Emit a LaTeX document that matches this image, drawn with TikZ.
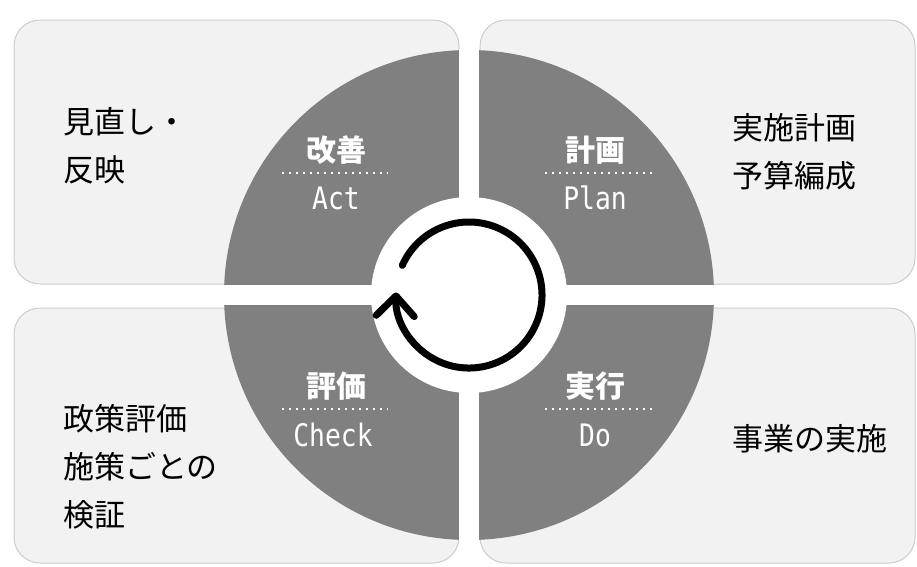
\documentclass[tikz,border=0pt]{standalone}
\usepackage{fontspec}
\setmainfont{Noto Sans CJK JP}
\newfontfamily\latnarrow[FakeStretch=0.85]{DejaVu Sans Mono}
\usetikzlibrary{arrows.meta}

\tikzset{
  panel/.style={fill=gray!10, draw=gray!40, line width=1pt, rounded corners=26pt},
  phase/.style={text=white, inner sep=0pt, font=\fontsize{30}{30}\selectfont\bfseries},
  phaseen/.style={text=white, inner sep=0pt, font=\latnarrow\fontsize{31}{31}\selectfont},
  note/.style={anchor=west, align=left, inner sep=0pt, font=\fontsize{31}{48}\selectfont},
  dotsep/.style={white, line width=2pt, dash pattern=on 2pt off 5pt},
}

\begin{document}
\begin{tikzpicture}[x=1pt, y=-1pt]
\useasboundingbox (0,0) rectangle (917,566);
\coordinate (c) at (469,295);

% panels
\draw[panel] (14,20) rectangle (459,284);
\draw[panel] (480,20) rectangle (915,284);
\draw[panel] (14,308) rectangle (459,563);
\draw[panel] (480,308) rectangle (915,563);

% quadrants
\fill[gray] (c) circle[radius=245];
\begin{scope}
  \clip (c) circle[radius=246];
  \fill[white] (459,0) rectangle (479,566);
  \fill[white] (0,285) rectangle (917,305);
\end{scope}
\fill[white] (c) circle[radius=98];

% cycle
\draw[line width=7pt, line cap=round,
      -{Straight Barb[round, length=20pt, width=38pt]}]
  (c) ++(204:73) arc[start angle=204, end angle=542, radius=73];

% phase labels
\node[phase] (act) at (336,150) {改善};
\draw[dotsep] (282,173) -- (388,173);
\node[phaseen] (acten) at (336,198) {Act};

\node[phase] (plan) at (595,150) {計画};
\draw[dotsep] (545,173) -- (653,173);
\node[phaseen] (planen) at (595,198) {Plan};

\node[phase] (check) at (336,386) {評価};
\draw[dotsep] (282,409) -- (388,409);
\node[phaseen] (checken) at (333,435) {Check};

\node[phase] (do) at (595,386) {実行};
\draw[dotsep] (545,409) -- (653,409);
\node[phaseen] (doen) at (595,435) {Do};

% notes
\node[note] (actnote) at (63,146) {見直し・\\反映};
\node[note] (plannote) at (732,152) {実施計画\\予算編成};
\node[note] (checknote) at (63,467) {政策評価\\施策ごとの\\検証};
\node[note] (donote) at (732,439) {事業の実施};
\end{tikzpicture}
\end{document}
